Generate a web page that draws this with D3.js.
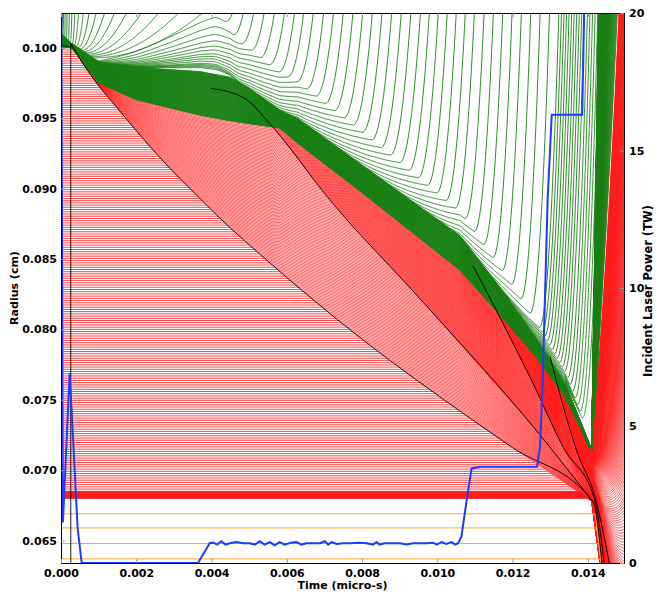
<!DOCTYPE html>
<html>
<head>
<meta charset="utf-8">
<script src="https://cdn.jsdelivr.net/npm/d3@7"></script>
<style>
  body { margin: 0; background: #fff; }
  text { font-family: "DejaVu Sans", sans-serif; font-weight: bold; }
</style>
</head>
<body>
<div id="wrapper"></div>
<script>
// time in micro-s, radius in cm, laser power in TW

// laser pulse (right axis)
const laserTime = [0, 0.00005, 0.00023, 0.00027, 0.00044, 0.00055, 0.00364, 0.00395,
  0.00404, 0.00415, 0.00426, 0.00437, 0.00448, 0.00466, 0.00484, 0.00501, 0.00515, 0.00528,
  0.00541, 0.00555, 0.00568, 0.00581, 0.00594, 0.00612, 0.00625, 0.00639, 0.00652, 0.00670,
  0.00688, 0.00701, 0.00710, 0.00719, 0.00732, 0.00750, 0.00767, 0.00794, 0.00812, 0.00829,
  0.00838, 0.00847, 0.00860, 0.00874, 0.00900, 0.00918, 0.00936, 0.00954, 0.00971, 0.00989,
  0.00998, 0.01011, 0.01024, 0.01038, 0.01047, 0.01055,
  0.01064, 0.01078, 0.01091, 0.01113, 0.01265, 0.01273, 0.01280, 0.01293, 0.01304, 0.01385, 0.01390, 0.01396]
const laserPower = [25, 1.47, 6.9, 5.9, 1.3, 0, 0, 0.72,
  0.74, 0.67, 0.79, 0.67, 0.72, 0.76, 0.72, 0.72, 0.67, 0.79,
  0.67, 0.76, 0.64, 0.76, 0.67, 0.74, 0.76, 0.67, 0.72, 0.72,
  0.72, 0.79, 0.67, 0.76, 0.69, 0.72, 0.72, 0.74, 0.72, 0.67,
  0.76, 0.67, 0.72, 0.72, 0.72, 0.67, 0.72, 0.72, 0.72, 0.74,
  0.67, 0.76, 0.69, 0.76, 0.67, 0.72,
  0.96, 2.29, 3.44, 3.5, 3.5, 4.23, 6.65, 13.2, 16.3, 16.3, 20, 40]

// shock fronts (black lines)
const shock1Time = [0.00026, 0.00060, 0.00100, 0.00150, 0.00200, 0.00280, 0.00350, 0.00450, 0.00530, 0.00670, 0.00800, 0.00950, 0.01200, 0.01415]
const shock1Radius = [0.1003, 0.0988, 0.0973, 0.0957, 0.0941, 0.0917, 0.0898, 0.0872, 0.0853, 0.0821, 0.0793, 0.0763, 0.0716, 0.0677]
const shock2Time = [0.00399, 0.00488, 0.00555, 0.00714, 0.00953, 0.01273, 0.01415]
const shock2Radius = [0.0971, 0.0964, 0.0946, 0.0892, 0.0822, 0.0725, 0.0677]
const shock3Time = [0.01095, 0.01250, 0.01335, 0.01418, 0.01445]
const shock3Radius = [0.0845, 0.0764, 0.0716, 0.0679, 0.0630]
const shock4Time = [0.01299, 0.01370, 0.01420, 0.01460]
const shock4Radius = [0.0781, 0.0714, 0.0680, 0.0630]
const interfaceTime = [0.01415, 0.01437]
const interfaceRadius = [0.0677, 0.0634]
const precursorTime = [0.00026, 0.00026]
const precursorRadius = [0.1003, 0.0600]

// dense green layer: inner (red side) and outer edge
const bandTime = [0, 0.00028, 0.0010, 0.0020, 0.0037, 0.0045, 0.0050, 0.0058, 0.0063, 0.0080, 0.0106, 0.0118, 0.0127, 0.0134, 0.01405, 0.0142]
const bandInner = [0.1000, 0.1000, 0.0975, 0.0963, 0.0952, 0.0948, 0.0946, 0.0943, 0.0932, 0.0897, 0.0842, 0.0806, 0.0778, 0.0752, 0.0716, 0.0712]
const bandOuter = [0.1010, 0.1003, 0.0990, 0.0986, 0.0983, 0.0979, 0.0971, 0.0956, 0.0950, 0.0918, 0.0868, 0.0826, 0.0792, 0.0762, 0.0718, 0.0714]

// zoning
const redMeshEdges = [0.0680, 0.0685, 0.1000]
const redMeshZones = [24, 200]
const gasRadii = [0.0669, 0.0659, 0.0648, 0.0637]
const greenGroups = [18, 15, 37, 84]   // early fan, hump, later blow-off, stays in layer

// green zones leaving the layer
const fanTopTime = [0.00004, 0.00007, 0.00011, 0.00016, 0.00022, 0.00029, 0.00037, 0.00047, 0.00060,
  0.00076, 0.00095, 0.00118, 0.00145, 0.00178, 0.00218, 0.00265, 0.00320, 0.00385]
const humpPeak = [0.1024, 0.1017, 0.1011, 0.1006, 0.1002, 0.0999, 0.0996, 0.0994, 0.0992, 0.0990,
  0.0988, 0.0987, 0.0986, 0.0985, 0.0984]
const humpTime = 0.0043
const strippedTime = [0, 0.0009, 0.0020, 0.0080, 0.0127, 0.0139]
const strippedZones = [0, 18, 33, 33, 52, 70]
const ablationZone = [18, 52, 70]
const ablationTime = [0.0043, 0.0127, 0.0139]
const fringeTime = [0.004, 0.008, 0.012, 0.0139]
const fringeHeight = [0.0030, 0.0022, 0.0012, 0.0005]
const fringeWidth = [0.0030, 0.0020, 0.0010, 0.0005]
const blowoffTime = [0.0043, 0.009, 0.0139]
const blowoffAccel = [40000, 70000, 200000]

// stagnation / rebound after the shocks meet
const tFinal = 0.0141
const finalQ = [0, 0.15, 0.35, 0.6, 0.8, 1]
const finalSpeed = [28, 15, 2, -8, -14, -20]
const finalAccel = [40000, 40000, 30000, 15000, 6000, 0]
const columnFrac = [0, 1]
const columnSpeed = [35, 170]
const columnAccel = [30000, 0]
// extra compression behind shocks 2-4
const shockCompression = [0.8, 0.5, 0.5]

const timeTicks = [0, 0.002, 0.004, 0.006, 0.008, 0.010, 0.012, 0.014]
const radiusTicks = [0.065, 0.070, 0.075, 0.080, 0.085, 0.090, 0.095, 0.100]
const powerTicks = [0, 5, 10, 15, 20]

// chart dimensions
const margin = {top: 13, right: 32, bottom: 29, left: 61}
const W = 563, H = 550
const timeMax = 0.01496
const rMin = 0.06341, rMax = 0.10246

const x = d3.scaleLinear().domain([0, timeMax]).range([0, W])
const y = d3.scaleLinear().domain([rMin, rMax]).range([H, 0])
const yPow = d3.scaleLinear().domain([0, 20]).range([H, 0])

// piecewise curves through the points
const curve = (ts, vs) => d3.scaleLinear().domain(ts).range(vs).clamp(true)
const shock1 = curve(shock1Time, shock1Radius)
const bandIn = curve(bandTime, bandInner)
const bandOut = curve(bandTime, bandOuter)
const stripped = curve(strippedTime, strippedZones)
const release = curve(ablationZone, ablationTime)
const fringeH = curve(fringeTime, fringeHeight)
const fringeW = curve(fringeTime, fringeWidth)
const blowoff = curve(blowoffTime, blowoffAccel)
const finalV = curve(finalQ, finalSpeed), finalA = curve(finalQ, finalAccel)
const colV = curve(columnFrac, columnSpeed), colA = curve(columnFrac, columnAccel)
const smooth = u => { u = Math.max(0, Math.min(1, u)); return u * u * (3 - 2 * u) }

const grid = [...d3.range(0, 0.0006, 2e-6), ...d3.range(0.0006, 0.0138, 2e-5), ...d3.range(0.0138, timeMax + 4e-6, 2e-6)]

const extraShocks = [[shock2Time, shock2Radius], [shock3Time, shock3Radius], [shock4Time, shock4Radius]]
  .map(([ts, rs]) => {
    const f = curve(ts, rs)
    const end = ts.find((t, i) => rs[i] <= 0.0681)
    const enter = grid.find(t => t >= ts[0] && f(t) <= bandIn(t))
    return {f, end, enter: enter === undefined ? Infinity : enter}
  })

// red layer: zones sit still until a shock passes, then share the shocked space
const redShell = redMeshEdges[redMeshEdges.length - 1]
const redDepth = redShell - redMeshEdges[0]
function redRadius(r0, t) {
  const m = redShell - r0
  const b = bandIn(t)
  const s1 = shock1(t), m1 = redShell - s1
  if (m >= m1) return r0
  const knots = [[m1, s1]]
  let mPrev = m1, sPrev = s1
  extraShocks.forEach((s, i) => {
    if (t > s.enter && t < s.end) {
      const u = (t - s.enter) / (s.end - s.enter)
      const sk = s.f(t)
      const share = (b - sk) / Math.max(b - sPrev, 1e-9) * (1 + shockCompression[i] * (1 - u))
      const mk = mPrev * Math.min(0.98, share)
      knots.push([mk, sk])
      mPrev = mk
      sPrev = sk
    }
  })
  knots.push([0, b])
  for (let i = 0; i < knots.length - 1; i++) {
    const [ma, ra] = knots[i], [mb, rb] = knots[i + 1]
    if (m >= mb) return ma === mb ? ra : rb + (ra - rb) * (m - mb) / (ma - mb)
  }
  return b
}
function redPath(r0) {
  const q = (redShell - r0) / redDepth
  const rF = redRadius(r0, tFinal), v = finalV(q), a = finalA(q)
  return t => t < tFinal ? redRadius(r0, t) : rF + v * (t - tFinal) + 0.5 * a * (t - tFinal) ** 2
}

// green layer
const nGreen = d3.sum(greenGroups)
const [nFan, nHump, nStrip] = greenGroups
const firstBand = nFan + nHump + nStrip
function inBand(k, t) {
  const n = stripped(t), b = bandIn(t), o = bandOut(t)
  if (k < n) return o
  return b + (o - b) * (nGreen - 1 - k) / Math.max(nGreen - 1 - n, 1e-6)
}
function fringe(k, t) {
  const u = Math.max(0, Math.min(1, 1 - (release(k) - t) / fringeW(t)))
  return fringeH(t) * Math.pow(u, 1.5)
}
function blownOff(k) {
  const tau = release(k)
  const pre = t => inBand(k, t) + fringe(k, t)
  const r0 = pre(tau), v = (r0 - pre(tau - 2e-5)) / 2e-5, a = blowoff(tau)
  return t => t < tau ? pre(t) : r0 + v * (t - tau) + 0.5 * a * (t - tau) ** 2
}
function fanPath(i) {
  const tau = strippedTime[1] * i / nFan
  const r0 = bandOut(tau), tc = fanTopTime[i]
  const a = 2 * (rMax + 0.0002 - r0) / (tc - tau) ** 2
  return t => t < tau ? inBand(i, t) : r0 + 0.5 * a * (t - tau) ** 2
}
function humpPath(j) {
  const k = nFan + j
  const tau = strippedTime[1] + (strippedTime[2] - strippedTime[1]) * j / nHump
  const lift = humpPeak[j] - bandOut(humpTime)
  const late = blownOff(k)
  return t => {
    if (t < tau) return inBand(k, t)
    const early = bandOut(t) + lift * Math.pow((t - tau) / (humpTime - tau), 1.2)
    const w = smooth((t - humpTime + 0.0003) / 0.0008)
    return (1 - w) * early + w * late(t)
  }
}
function bandPath(k) {
  const f = (nGreen - 1 - k) / (nGreen - 1 - firstBand)
  const rF = inBand(k, tFinal), v = colV(f), a = colA(f)
  return t => t < tFinal ? inBand(k, t) : rF + v * (t - tFinal) + 0.5 * a * (t - tFinal) ** 2
}

function trace(fn) {
  const pts = []
  for (const t of grid) {
    const r = fn(t)
    pts.push([t, r])
    if (r > rMax + 0.002 || r < rMin - 0.003) break
  }
  // drop repeated points while a zone is at rest
  return pts.filter((p, i) => i === 0 || i === pts.length - 1 ||
    p[1] !== pts[i - 1][1] || pts[i + 1][1] !== p[1])
}

const redRadii = []
redMeshZones.forEach((n, b) => {
  d3.range(n).forEach(i => redRadii.push(redMeshEdges[b] + (redMeshEdges[b + 1] - redMeshEdges[b]) * i / n))
})
redRadii.push(redShell)
const redLines = redRadii.map(r0 => trace(redPath(r0)))

const greenLines = d3.range(nGreen).map(k => {
  if (k < nFan) return trace(fanPath(k))
  if (k < nFan + nHump) return trace(humpPath(k - nFan))
  if (k < firstBand) return trace(blownOff(k))
  return trace(bandPath(k))
})

const ifaceSlope = (interfaceRadius[1] - interfaceRadius[0]) / (interfaceTime[1] - interfaceTime[0])
const gasLines = gasRadii.map(r0 => {
  const tHit = interfaceTime[0] + (r0 - interfaceRadius[0]) / ifaceSlope
  return [[0, r0], [tHit, r0], [tHit + (rMin - 0.001 - r0) / ifaceSlope * 0.9, rMin - 0.001]]
})

const zip = (ts, rs) => ts.map((t, i) => [t, rs[i]])
const blackLines = [
  zip(shock1Time, shock1Radius).concat(zip(interfaceTime, interfaceRadius).slice(1)),
  zip(shock2Time, shock2Radius),
  zip(shock3Time, shock3Radius),
  zip(shock4Time, shock4Radius),
]

// draw
const svg = d3.select("#wrapper").append("svg").attr("width", 656).attr("height", 592)
const bounds = svg.append("g").attr("transform", `translate(${margin.left},${margin.top})`)
bounds.append("clipPath").attr("id", "plot-area").append("rect").attr("width", W).attr("height", H)
const plot = bounds.append("g").attr("clip-path", "url(#plot-area)")

const line = d3.line().x(d => x(d[0])).y(d => y(d[1]))

plot.append("g").selectAll("path").data(redLines).join("path")
  .attr("d", line).attr("fill", "none").attr("stroke", "#ff1a1a").attr("stroke-width", 0.8)
plot.append("g").selectAll("path").data(gasLines).join("path")
  .attr("d", line).attr("fill", "none").attr("stroke", "#ffa630").attr("stroke-width", 1)
plot.append("g").selectAll("path").data(greenLines).join("path")
  .attr("d", line).attr("fill", "none").attr("stroke", "#1a7f14").attr("stroke-width", 0.9)
plot.append("g").selectAll("path").data(blackLines).join("path")
  .attr("d", d3.line().x(d => x(d[0])).y(d => y(d[1])).curve(d3.curveMonotoneX))
  .attr("fill", "none").attr("stroke", "#000").attr("stroke-width", 0.9)
plot.append("path").datum(zip(precursorTime, precursorRadius))
  .attr("d", line).attr("stroke", "#000").attr("stroke-width", 0.9)

const laserLine = d3.line().x((d, i) => x(laserTime[i])).y(d => yPow(d))
plot.append("path").datum(laserPower).attr("d", laserLine)
  .attr("fill", "none").attr("stroke", "#1c3cff").attr("stroke-width", 2)

// axes
function style(g) {
  g.attr("font-size", 11).attr("font-weight", "bold")
  g.selectAll(".tick line").attr("stroke", "#999")
  g.select(".domain").attr("stroke", "#000")
}
bounds.append("g").call(d3.axisLeft(y).tickValues(radiusTicks).tickFormat(d3.format(".3f"))
  .tickSize(-4).tickPadding(4)).call(style)
bounds.append("g").attr("transform", `translate(0,${H})`)
  .call(d3.axisBottom(x).tickValues(timeTicks).tickFormat(d3.format(".3f")).tickSize(-4).tickPadding(6)).call(style)
bounds.append("g").call(d3.axisTop(x).tickValues(timeTicks).tickFormat("").tickSize(-4)).call(style)
bounds.append("g").attr("transform", `translate(${W},0)`)
  .call(d3.axisRight(yPow).tickValues(powerTicks).tickSize(-4).tickPadding(5)).call(style)

bounds.append("text").attr("x", W / 2).attr("y", H + 26).attr("text-anchor", "middle")
  .attr("font-size", 11).text("Time (micro-s)")
bounds.append("text").attr("transform", `translate(-43,${H / 2}) rotate(-90)`).attr("text-anchor", "middle")
  .attr("font-size", 11).text("Radius (cm)")
bounds.append("text").attr("transform", `translate(${W + 28},${H / 2 + 3}) rotate(-90)`).attr("text-anchor", "middle")
  .attr("font-size", 11.5).text("Incident Laser Power (TW)")
</script>
</body>
</html>
